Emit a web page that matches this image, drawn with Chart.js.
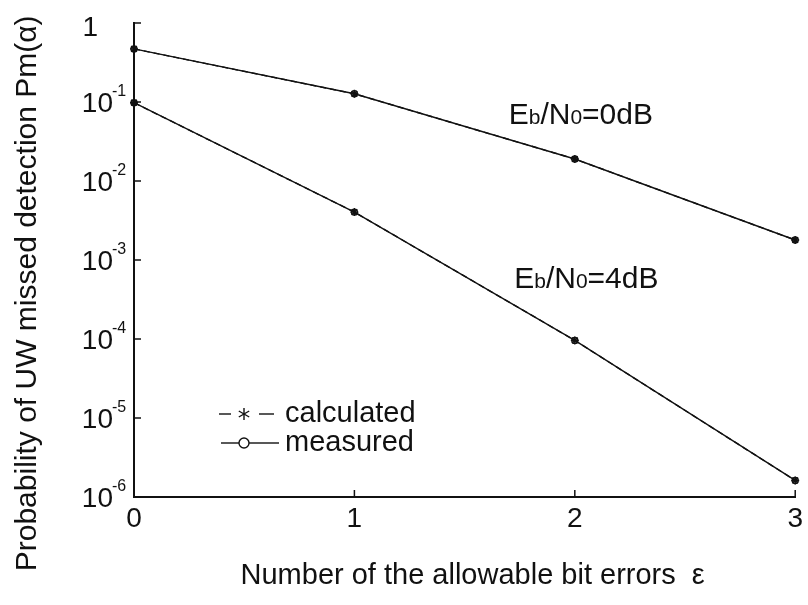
<!DOCTYPE html>
<html><head><meta charset="utf-8">
<script src="https://cdn.jsdelivr.net/npm/chart.js@4/dist/chart.umd.min.js"></script>
<style>html,body{margin:0;padding:0;background:#fff}#wrap{width:808px;height:605px}</style>
</head><body><div id="wrap"><canvas id="c" width="808" height="605"></canvas></div>
<script>
// ---- data ----
const xValues = [0, 1, 2, 3];
const calculated0dB = [0.47, 0.127, 0.0190, 0.00179];
const measured0dB   = [0.47, 0.127, 0.0190, 0.00179];
const calculated4dB = [0.098, 0.00404, 0.000096, 0.00000162];
const measured4dB   = [0.098, 0.00404, 0.000096, 0.00000162];
const yTickExponents = [0, -1, -2, -3, -4, -5, -6];
const xTickValues = [0, 1, 2, 3];
const curveLabels = ['Eb/N0=0dB', 'Eb/N0=4dB'];
const curveLabelX = [1.70, 1.725];
const curveLabelY = [0.053, 0.00044];
const legendLabels = ['calculated', 'measured'];
const xTitle = '  Number of the allowable bit errors  \u03b5';
const yTitle = 'Probability of UW missed detection Pm(\u03b1)';

const INK = '#111';
const FONT = '"Liberation Sans", Arial, Helvetica, sans-serif';

const toPts = ys => xValues.map((x, i) => ({x: x, y: ys[i]}));
const calcStyle = {borderColor: INK, borderWidth: 1.4, borderDash: [6, 4], pointStyle: 'star',
  pointRadius: 4, pointBorderWidth: 1.4, pointBorderColor: INK, pointBackgroundColor: 'rgba(0,0,0,0)',
  fill: false, tension: 0, clip: false};
const measStyle = {borderColor: INK, borderWidth: 1.4, pointStyle: 'circle',
  pointRadius: 3, pointBorderWidth: 1.4, pointBorderColor: INK, pointBackgroundColor: 'rgba(0,0,0,0)',
  fill: false, tension: 0, clip: false};

const decor = {
  id: 'decor',
  afterDraw(chart) {
    const ctx = chart.ctx, xs = chart.scales.x, ys = chart.scales.y, ca = chart.chartArea;
    ctx.save();
    ctx.strokeStyle = INK; ctx.fillStyle = INK; ctx.lineWidth = 1.5;
    // inward ticks
    yTickExponents.forEach(e => {
      const py = ys.getPixelForValue(Math.pow(10, e));
      ctx.beginPath(); ctx.moveTo(ca.left, py); ctx.lineTo(ca.left + 7, py); ctx.stroke();
    });
    xTickValues.forEach(v => {
      if (v === 0) return;
      const px = xs.getPixelForValue(v);
      ctx.beginPath(); ctx.moveTo(px, ca.bottom); ctx.lineTo(px, ca.bottom - 7); ctx.stroke();
    });
    // y tick labels with superscript exponents
    yTickExponents.forEach(e => {
      const py = ys.getPixelForValue(Math.pow(10, e));
      if (e === 0) {
        ctx.font = '28px ' + FONT; ctx.textAlign = 'right'; ctx.textBaseline = 'middle';
        ctx.fillText('1', 98, py + 5);
      } else {
        ctx.font = '28px ' + FONT; ctx.textAlign = 'right'; ctx.textBaseline = 'middle';
        ctx.fillText('10', 113, py + 2);
        ctx.font = '16px ' + FONT; ctx.textAlign = 'left'; ctx.textBaseline = 'alphabetic';
        ctx.fillText('-' + (-e), 112, py - 6);
      }
    });
    // curve labels with subscripts
    curveLabels.forEach((t, i) => {
      let px = xs.getPixelForValue(curveLabelX[i]);
      const py = ys.getPixelForValue(curveLabelY[i]);
      const parts = [[t.slice(0, 1), 0], [t.slice(1, 2), 1], [t.slice(2, 4), 0], [t.slice(4, 5), 1], [t.slice(5), 0]];
      ctx.textAlign = 'left'; ctx.textBaseline = 'alphabetic';
      parts.forEach(([s, sub]) => {
        ctx.font = (sub ? '21px ' : '30px ') + FONT;
        ctx.fillText(s, px, py);
        px += ctx.measureText(s).width;
      });
    });
    // legend
    const rows = [422, 451];
    const tx = 285, mx = 244;
    ctx.lineWidth = 1.4;
    // calculated: dashed line with asterisk
    let cy = rows[0] - 8;
    ctx.beginPath(); ctx.moveTo(219, cy); ctx.lineTo(231, cy); ctx.stroke();
    ctx.beginPath(); ctx.moveTo(259, cy); ctx.lineTo(274, cy); ctx.stroke();
    const r = 6;
    for (let k = 0; k < 3; k++) {
      const a = Math.PI / 2 + k * Math.PI / 3;
      ctx.beginPath(); ctx.moveTo(mx + r * Math.cos(a), cy + r * Math.sin(a));
      ctx.lineTo(mx - r * Math.cos(a), cy - r * Math.sin(a)); ctx.stroke();
    }
    // measured: solid line with circle
    cy = rows[1] - 8;
    ctx.beginPath(); ctx.moveTo(221, cy); ctx.lineTo(mx - 5, cy); ctx.stroke();
    ctx.beginPath(); ctx.moveTo(mx + 5, cy); ctx.lineTo(279, cy); ctx.stroke();
    ctx.beginPath(); ctx.arc(mx, cy, 5, 0, Math.PI * 2); ctx.stroke();
    ctx.font = '29px ' + FONT; ctx.textAlign = 'left'; ctx.textBaseline = 'alphabetic';
    ctx.fillText(legendLabels[0], tx, rows[0]);
    ctx.fillText(legendLabels[1], tx, rows[1]);
    ctx.restore();
  }
};

new Chart(document.getElementById('c'), {
  type: 'line',
  data: {
    datasets: [
      Object.assign({label: 'calculated 0dB', data: toPts(calculated0dB)}, calcStyle),
      Object.assign({label: 'measured 0dB', data: toPts(measured0dB)}, measStyle),
      Object.assign({label: 'calculated 4dB', data: toPts(calculated4dB)}, calcStyle),
      Object.assign({label: 'measured 4dB', data: toPts(measured4dB)}, measStyle)
    ]
  },
  options: {
    responsive: false, animation: false, devicePixelRatio: 1,
    layout: {padding: {left: 0, right: 9, top: 23, bottom: 0}},
    plugins: {legend: {display: false}, tooltip: {enabled: false}},
    scales: {
      x: {
        type: 'linear', min: 0, max: 3,
        afterBuildTicks: s => { s.ticks = xTickValues.map(v => ({value: v})); },
        afterFit: s => { s.height = 108; },
        grid: {display: false, drawTicks: false},
        border: {display: true, color: INK, width: 2},
        ticks: {color: INK, font: {family: FONT, size: 28}, padding: 5, maxRotation: 0},
        title: {display: true, text: xTitle, color: INK, font: {family: FONT, size: 29}, padding: {top: 0, bottom: 12}}
      },
      y: {
        type: 'logarithmic', min: 1e-6, max: 1,
        afterBuildTicks: s => { s.ticks = yTickExponents.map(e => ({value: Math.pow(10, e)})); },
        afterFit: s => { s.width = 134; },
        grid: {display: false, drawTicks: false},
        border: {display: true, color: INK, width: 2},
        ticks: {display: false},
        title: {display: true, text: yTitle + '        ', color: INK, font: {family: FONT, size: 30}, padding: {top: 10, bottom: 0}}
      }
    }
  },
  plugins: [decor]
});
</script></body></html>
